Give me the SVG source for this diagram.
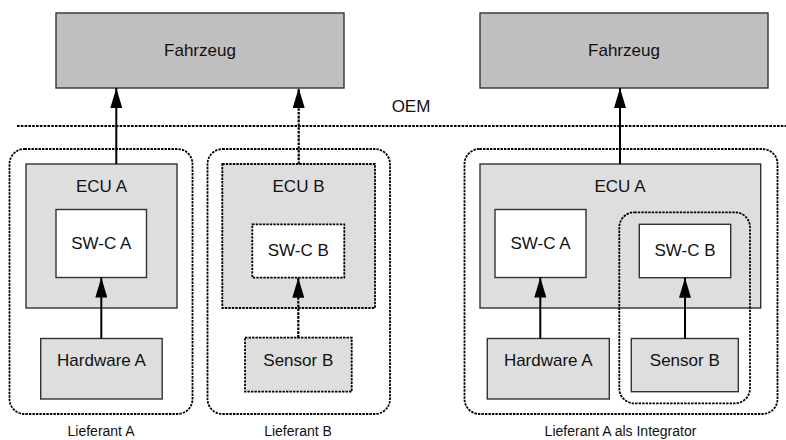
<svg xmlns="http://www.w3.org/2000/svg" width="786" height="440" viewBox="0 0 786 440">
<defs>
<style>
text{font-family:"Liberation Sans",Arial,sans-serif;fill:#111;text-anchor:middle}
.lbl{font-size:17px}
.cap{font-size:14px}
.top{fill:#bfbfbf;stroke:#333;stroke-width:1.4}
.ecu{fill:#dedede;stroke:#333;stroke-width:1.4}
.sw{fill:#fff;stroke:#333;stroke-width:1.4}
.dash{stroke-dasharray:2.4 1.1;stroke:#000;stroke-width:1.8}
.grp{fill:none;stroke:#000;stroke-width:1.8;stroke-dasharray:2.4 1.1}
.arr{stroke:#000;stroke-width:2;fill:none;marker-end:url(#ah)}
.arrd{stroke:#000;stroke-width:2.2;fill:none;stroke-dasharray:2.6 1.2;marker-end:url(#ah)}
</style>
<marker id="ah" viewBox="0 0 20 12" refX="20" refY="6" markerWidth="20" markerHeight="12" markerUnits="userSpaceOnUse" orient="auto">
<path d="M0,0 L20,6 L0,12 z" fill="#000"/>
</marker>
</defs>
<rect width="786" height="440" fill="#fff"/>

<g id="oem">
<line x1="17" y1="126" x2="786" y2="126" stroke="#000" stroke-width="2.2" stroke-dasharray="2.6 1.2"/>
<text class="lbl" x="411" y="112">OEM</text>
</g>

<g id="lieferantA">
<rect class="grp" x="9.5" y="149" width="183" height="265" rx="15"/>
<text class="cap" x="101" y="436">Lieferant A</text>
</g>
<g id="lieferantB">
<rect class="grp" x="207.5" y="149" width="182.5" height="265" rx="15"/>
<text class="cap" x="298" y="436">Lieferant B</text>
</g>
<g id="lieferantAI">
<rect class="grp" x="464.5" y="149" width="313" height="265" rx="15"/>
<text class="cap" x="620.5" y="436">Lieferant A als Integrator</text>
</g>

<g id="fahrzeug1">
<rect class="top" x="56" y="13" width="288" height="75"/>
<text class="lbl" x="200" y="56">Fahrzeug</text>
</g>
<g id="fahrzeug2">
<rect class="top" x="480" y="13" width="288" height="75"/>
<text class="lbl" x="624" y="56">Fahrzeug</text>
</g>

<g id="ecuA1">
<rect class="ecu" x="26" y="164" width="151" height="144"/>
<text class="lbl" x="101.5" y="192">ECU A</text>
</g>
<g id="swcA1">
<rect class="sw" x="56" y="209.5" width="90.5" height="68"/>
<text class="lbl" x="101.3" y="249">SW-C A</text>
</g>
<g id="hwA1">
<rect class="ecu" x="40.7" y="338.5" width="121.5" height="60.5"/>
<text class="lbl" x="101.5" y="366">Hardware A</text>
</g>

<g id="ecuB">
<rect class="ecu dash" x="222.3" y="164" width="152.7" height="144"/>
<text class="lbl" x="298.5" y="192">ECU B</text>
</g>
<g id="swcB">
<rect class="sw dash" x="252.3" y="224.3" width="92" height="53.4"/>
<text class="lbl" x="298.3" y="256">SW-C B</text>
</g>
<g id="sensorB">
<rect class="ecu dash" x="245" y="337.7" width="106.7" height="54"/>
<text class="lbl" x="298.3" y="366">Sensor B</text>
</g>

<g id="ecuA2">
<rect class="ecu" x="480" y="164" width="280.7" height="144"/>
<text class="lbl" x="620" y="192">ECU A</text>
</g>
<g id="swcA2">
<rect class="sw" x="495" y="209.5" width="91" height="68"/>
<text class="lbl" x="540.5" y="249">SW-C A</text>
</g>
<g id="swcB2">
<rect class="sw" x="639.3" y="224.3" width="91.4" height="53.4"/>
<text class="lbl" x="685" y="256">SW-C B</text>
</g>
<g id="hwA2">
<rect class="ecu" x="487.3" y="338.5" width="122" height="60.5"/>
<text class="lbl" x="548.3" y="366">Hardware A</text>
</g>
<g id="sensorB2">
<rect class="ecu" x="631.3" y="338.5" width="107" height="53.2"/>
<text class="lbl" x="684.8" y="366">Sensor B</text>
</g>
<g id="integratorB">
<rect class="grp" x="619.3" y="212.3" width="130.7" height="191" rx="15"/>
</g>

<g id="connectors">
<line class="arr" x1="116.3" y1="164" x2="116.3" y2="88"/>
<line class="arrd" x1="298.7" y1="164" x2="298.7" y2="88"/>
<line class="arr" x1="101.3" y1="338.5" x2="101.3" y2="277.5"/>
<line class="arrd" x1="298.3" y1="337.7" x2="298.3" y2="277.7"/>
<line class="arr" x1="620" y1="164" x2="620" y2="88"/>
<line class="arr" x1="540.3" y1="338.5" x2="540.3" y2="277.5"/>
<line class="arr" x1="685" y1="338.5" x2="685" y2="277.7"/>
</g>
</svg>
